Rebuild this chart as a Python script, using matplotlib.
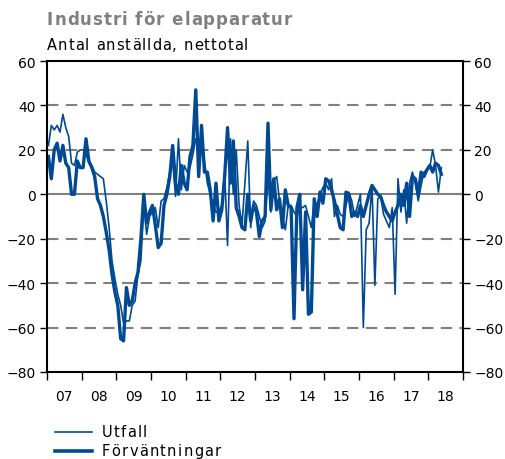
import matplotlib.pyplot as plt
import numpy as np
from matplotlib.lines import Line2D
from matplotlib.font_manager import FontProperties

# monthly net balances, Jan 2007 - May 2018
utfall = [
    22, 31, 29, 31, 28, 36, 30, 26, 14, 13, 19, 20,
    20, 18, 14, 13, 10, 9, 8, 7, -3, -15, -30, -38,
    -45, -50, -58, -57, -57, -50, -48, -36, -30, -5, -18, -10,
    -8, -6, -15, -3, -2, 3, 10, 15, -1, 25, 2, 13,
    10, 12, 18, 25, 20, 25, 15, 5, 0, -5, -8, -8,
    -5, 10, -23, 25, 0, 20, -5, -14, 5, 24, -15, -3,
    -5, -10, -15, -12, 8, -8, 6, 8, -3, -10, -16, -5,
    -5, -8, -10, -6, -6, -5, -10, -15, -3, -5, 0, 3,
    5, 2, 7, -10, -5, -9, -10, -5, 1, -3, -10, -5,
    0, -60, -16, -13, 4, -41, -2, -1, -9, -12, -15, -6,
    -45, 7, -8, 2, -13, 5, 10, 5, -3, 4, 10, 11,
    12, 20, 13, 1, 12,
]
forvantningar = [
    17, 7, 20, 23, 15, 22, 14, 12, 0, 0, 15, 12,
    12, 25, 15, 12, 8, -2, -5, -10, -17, -25, -36, -44,
    -50, -65, -66, -42, -50, -48, -40, -35, -20, 0, -13, -8,
    -5, -14, -24, -22, -5, 0, 8, 22, 5, 0, 13, 5,
    2, 17, 22, 47, 8, 31, 10, 10, 2, -12, 5, -12,
    -7, 8, 30, 5, 24, -6, -10, -15, -16, 0, -12, -5,
    -8, -19, -12, -10, 32, -7, 7, -7, -2, -15, 2, -5,
    -6, -56, -6, 0, -43, -8, -54, -53, -2, -10, 1, -4,
    7, 6, 2, -3, -9, -15, -16, 1, 0, -10, -8, -10,
    -5, -10, -5, 0, 4, 2, 0, -1, -5, -8, -10, -12,
    -8, -5, 0, -5, 5, -10, 8, 7, 0, 10, 8, 11,
    13, 10, 14, 13, 9,
]
years = list(range(2007, 2019))
year_labels = [f"{y % 100:02d}" for y in years]
series_names = ["Utfall", "Förväntningar"]

blue = "#004a93"
grid_grey = "#808080"
W, H = 505, 460


def spaced_text(fig, x, y, s, spacing, size, weight="normal", color="black"):
    """Write s letter by letter from pixel (x, y) baseline-centred, with extra spacing."""
    r = fig.canvas.get_renderer()
    fp = FontProperties(family="DejaVu Sans", size=size, weight=weight)
    for ch in s:
        fig.text(x / W, y / H, ch, fontproperties=fp, color=color,
                 ha="left", va="center")
        w, _, _ = r.get_text_width_height_descent(ch, fp, ismath=False)
        x += w + spacing


t = 2007 + (np.arange(len(utfall)) + 0.5) / 12

fig = plt.figure(figsize=(W / 100, H / 100), dpi=100)
ax = fig.add_axes([47 / W, 87 / H, 416 / W, 311 / H])

for v in [-60, -40, -20, 20, 40]:
    ax.axhline(v, color=grid_grey, lw=1.5, ls=(0, (5.5, 3.5)), zorder=1)
ax.axhline(0, color=grid_grey, lw=1.5, zorder=1)

ax.plot(t, utfall, color=blue, lw=1.2, zorder=3)
ax.plot(t, forvantningar, color=blue, lw=2.4, zorder=2)

ax.set_xlim(2007, 2019)
ax.set_ylim(-80, 60)
ax.set_yticks(range(-80, 61, 20))
ax.tick_params(axis="y", which="both", left=True, right=True,
               labelleft=True, labelright=True, direction="out",
               length=5, width=1, labelsize=10, pad=3)

ax.set_xticks(range(2007, 2020))
ax.set_xticklabels([])
ax.set_xticks([y + 0.5 for y in years], minor=True)
ax.set_xticklabels(year_labels, minor=True)
ax.tick_params(axis="x", which="major", direction="out", length=6, width=1)
ax.tick_params(axis="x", which="minor", length=0, labelsize=10, pad=12)

for s in ax.spines.values():
    s.set_color("black")
    s.set_linewidth(1.5)

spaced_text(fig, 47, H - 20, "Industri för elapparatur", 1.0, 12,
            weight="bold", color=grid_grey)
spaced_text(fig, 47, H - 45, "Antal anställda, nettotal", 1.0, 10.5)

# legend drawn by hand so the labels can be letter-spaced
for i, (name, lw) in enumerate(zip(series_names, [1.2, 2.6])):
    y = 433 + i * 19
    fig.add_artist(Line2D([55 / W, 92 / W], [1 - y / H, 1 - y / H],
                          color=blue, lw=lw))
    spaced_text(fig, 102, H - y, name, 1.3, 10.5)

fig.savefig("out.png", dpi=100)
